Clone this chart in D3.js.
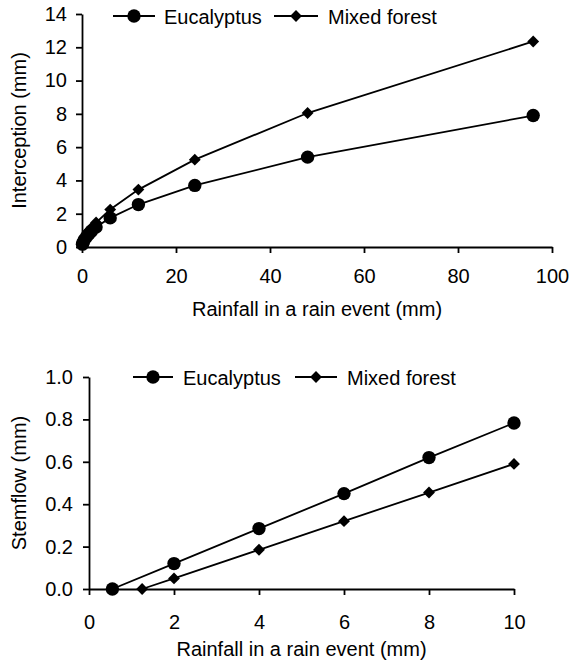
<!DOCTYPE html>
<html>
<head>
<meta charset="utf-8">
<script src="https://cdn.jsdelivr.net/npm/d3@7"></script>
<style>
  body { margin: 0; background: #fff; }
  svg { display: block; }
  text { font-family: "Liberation Sans", Arial, sans-serif; fill: #000; }
  .axis path, .axis line { stroke: #000; stroke-width: 1.8px; }
  .axis text { font-size: 20px; font-family: "Liberation Sans", Arial, sans-serif; }
  .axis-label { font-size: 20px; text-anchor: middle; }
  .legend text { font-size: 20px; }
</style>
</head>
<body>
<div id="chart"></div>
<script>
// interception vs rainfall
const rainTop = [0.1, 0.25, 0.5, 1, 1.5, 2, 3, 6, 12, 24, 48, 96];
const eucTop = [0.17, 0.29, 0.43, 0.63, 0.8, 0.95, 1.2, 1.75, 2.55, 3.7, 5.4, 7.9];
const mixTop = [0.18, 0.33, 0.5, 0.77, 0.97, 1.15, 1.47, 2.25, 3.45, 5.25, 8.05, 12.35];
const xTicksTop = [0, 20, 40, 60, 80, 100];
const yTicksTop = [0, 2, 4, 6, 8, 10, 12, 14];

// stemflow vs rainfall
const rainEucBot = [0.55, 2, 4, 6, 8, 10];
const eucBot = [0, 0.12, 0.285, 0.45, 0.62, 0.783];
const rainMixBot = [1.25, 2, 4, 6, 8, 10];
const mixBot = [0, 0.05, 0.185, 0.32, 0.455, 0.59];
const xTicksBot = [0, 2, 4, 6, 8, 10];
const yTicksBot = [0, 0.2, 0.4, 0.6, 0.8, 1.0];

const seriesNames = ['Eucalyptus', 'Mixed forest'];

const svg = d3.select('#chart').append('svg')
  .attr('width', 571)
  .attr('height', 665);

// circle for eucalyptus, square turned 45deg for mixed forest
function marker(sel, i) {
  if (i === 0) {
    sel.attr('d', d3.symbol().type(d3.symbolCircle).size(140));
  } else {
    sel.attr('d', d3.symbol().type(d3.symbolSquare).size(70));
  }
}

function buildPanel(p) {
  const x = d3.scaleLinear().domain(p.xDomain).range([p.left, p.right]);
  const y = d3.scaleLinear().domain(p.yDomain).range([p.bottom, p.top]);

  const g = svg.append('g');

  g.append('g')
    .attr('class', 'x axis')
    .attr('transform', `translate(0, ${p.bottom})`)
    .call(d3.axisBottom(x).tickValues(p.xTicks).tickFormat(p.xFormat)
      .tickSize(6).tickSizeOuter(0).tickPadding(p.xPad));
  g.append('g')
    .attr('class', 'y axis')
    .attr('transform', `translate(${p.left}, 0)`)
    .call(d3.axisLeft(y).tickValues(p.yTicks).tickFormat(p.yFormat)
      .tickSize(6).tickSizeOuter(0).tickPadding(p.yPad));

  const line = d3.line().x(d => x(d[0])).y(d => y(d[1]));

  p.series.forEach((s, i) => {
    const pts = s.xs.map((v, j) => [v, s.ys[j]]);
    g.append('path')
      .datum(pts)
      .attr('fill', 'none')
      .attr('stroke', '#000')
      .attr('stroke-width', 1.8)
      .attr('d', line);
    g.selectAll(`.pt${i}`)
      .data(pts)
      .enter().append('path')
        .attr('transform', d => `translate(${x(d[0])}, ${y(d[1])})` + (i ? ' rotate(45)' : ''))
        .attr('fill', '#000')
        .call(marker, i);
  });

  // legend
  const leg = g.append('g').attr('class', 'legend');
  p.legend.forEach((l, i) => {
    leg.append('line')
      .attr('x1', l.x0).attr('x2', l.x1)
      .attr('y1', p.legendY).attr('y2', p.legendY)
      .attr('stroke', '#000').attr('stroke-width', 1.8);
    leg.append('path')
      .attr('transform', `translate(${(l.x0 + l.x1) / 2}, ${p.legendY})` + (i ? ' rotate(45)' : ''))
      .attr('fill', '#000')
      .call(marker, i);
    leg.append('text')
      .attr('x', l.tx)
      .attr('y', p.legendY + 8)
      .text(seriesNames[i]);
  });

  // axis titles
  g.append('text')
    .attr('class', 'axis-label')
    .attr('x', (p.left + p.right) / 2)
    .attr('y', p.xTitleY)
    .text('Rainfall in a rain event (mm)');
  g.append('text')
    .attr('class', 'axis-label')
    .attr('transform', `translate(26, ${(p.top + p.bottom) / 2}) rotate(-90)`)
    .text(p.yTitle);
}

buildPanel({
  left: 82, right: 552, top: 14, bottom: 247,
  xDomain: [0, 100], yDomain: [0, 14],
  xTicks: xTicksTop, yTicks: yTicksTop,
  xFormat: d3.format('d'), yFormat: d3.format('d'),
  xPad: 16, yPad: 9,
  series: [{ xs: rainTop, ys: eucTop }, { xs: rainTop, ys: mixTop }],
  legendY: 16,
  legend: [{ x0: 113, x1: 155, tx: 164 }, { x0: 274, x1: 318, tx: 328 }],
  xTitleY: 316,
  yTitle: 'Interception (mm)',
});

buildPanel({
  left: 89, right: 514, top: 377, bottom: 589,
  xDomain: [0, 10], yDomain: [0, 1],
  xTicks: xTicksBot, yTicks: yTicksBot,
  xFormat: d3.format('d'), yFormat: d3.format('.1f'),
  xPad: 20, yPad: 10,
  series: [{ xs: rainEucBot, ys: eucBot }, { xs: rainMixBot, ys: mixBot }],
  legendY: 377,
  legend: [{ x0: 133, x1: 173, tx: 183 }, { x0: 295, x1: 337, tx: 347 }],
  xTitleY: 656,
  yTitle: 'Stemflow (mm)',
});
</script>
</body>
</html>
